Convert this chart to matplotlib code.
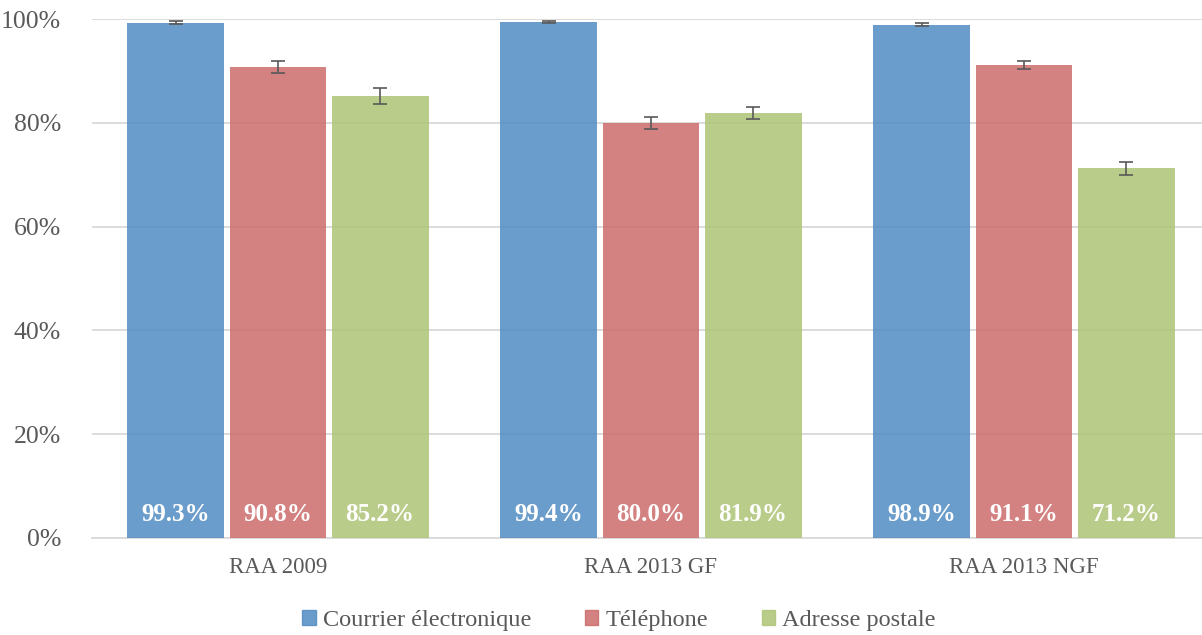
import matplotlib
matplotlib.use("Agg")
import matplotlib.pyplot as plt
import matplotlib.patches as patches
import numpy as np

groups = ["RAA 2009", "RAA 2013 GF", "RAA 2013 NGF"]
series = ["Courrier électronique", "Téléphone", "Adresse postale"]
courrier = [99.3, 99.4, 98.9]
telephone = [90.8, 80.0, 91.1]
postale = [85.2, 81.9, 71.2]
err_courrier = [0.3, 0.2, 0.3]
err_telephone = [1.2, 1.1, 0.8]
err_postale = [1.5, 1.1, 1.2]

values = [courrier, telephone, postale]
errors = [err_courrier, err_telephone, err_postale]
colors = ["#508CC2", "#CC6B6B", "#AEC476"]

plt.rcParams["font.family"] = ["Liberation Serif", "DejaVu Serif"]

fig = plt.figure(figsize=(12.02, 6.35), dpi=100)
ax = fig.add_axes([91.5 / 1202, 1 - 538 / 635, 1119 / 1202, (538 - 19) / 635])

x = np.arange(len(groups))
width = 0.26
step = 0.2735
for i, (vals, errs, c) in enumerate(zip(values, errors, colors)):
    pos = x + (i - 1) * step
    ax.bar(pos, vals, width, color=c, alpha=0.85, zorder=3, label=series[i])
    ax.errorbar(pos, vals, yerr=errs, fmt="none", ecolor="#595959",
                elinewidth=1.2, capsize=5, capthick=1.2, zorder=4)
    for p, v in zip(pos, vals):
        ax.text(p, 4.6, f"{v:.1f}%", ha="center", va="center", color="white",
                fontsize=18, fontweight="bold", zorder=5)

ax.set_xlim(-0.5, 2.5)
ax.set_ylim(0, 100)
ax.set_yticks(np.arange(0, 101, 20))
ax.set_yticklabels([f"{t}%" for t in range(0, 101, 20)])
ax.grid(axis="y", color="#D9D9D9", linewidth=1.3, zorder=1)
ax.set_axisbelow(True)
for s in ["top", "right", "left"]:
    ax.spines[s].set_visible(False)
ax.spines["bottom"].set_color("#D9D9D9")
ax.spines["bottom"].set_linewidth(1.3)
ax.tick_params(axis="both", length=0, labelcolor="#595959")
ax.tick_params(axis="y", labelsize=18.5, pad=22)
ax.tick_params(axis="x", labelsize=16.5, pad=14)
ax.set_xticks(x)
ax.set_xticklabels(groups)

handles = [patches.Patch(color=c, alpha=0.85) for c in colors]
fig.legend(handles, series, loc="center", bbox_to_anchor=(0.515, 0.023),
           ncol=3, frameon=False, fontsize=17.5, handlelength=0.55, handleheight=0.55,
           handletextpad=0.3, columnspacing=2.2, labelcolor="#595959")

fig.savefig("out.png", dpi=100)
